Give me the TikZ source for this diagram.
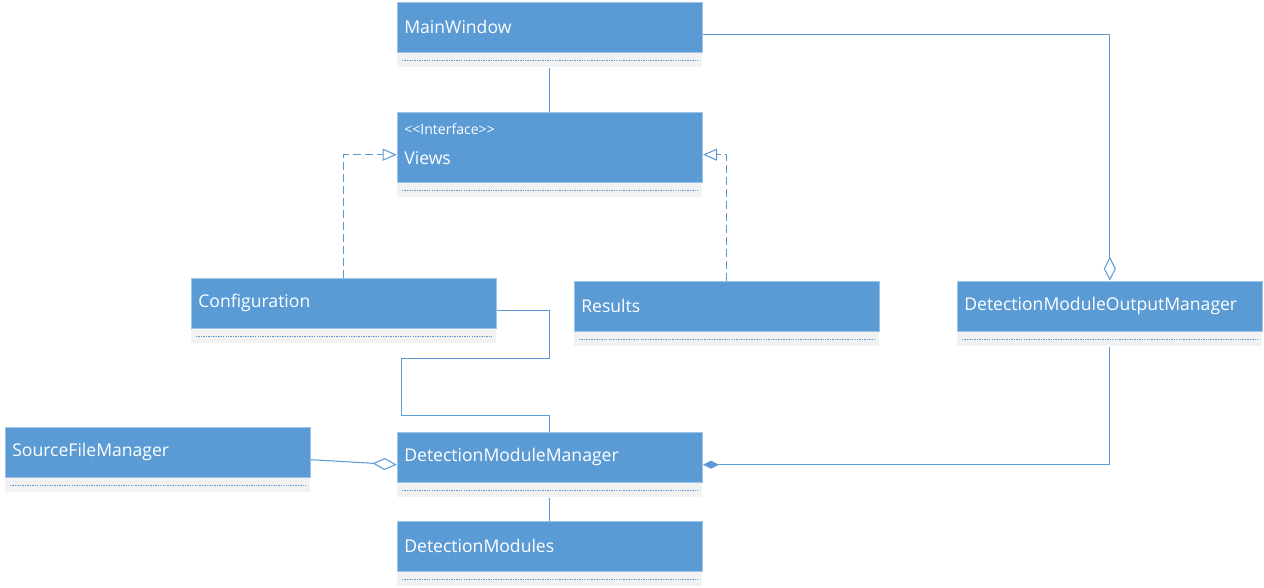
\documentclass[tikz,border=0pt]{standalone}
\usepackage{fontspec}
\setmainfont{Open Sans}
\usetikzlibrary{positioning, arrows.meta, fit}
\definecolor{umlblue}{HTML}{5B9BD5}
\definecolor{umledge}{HTML}{9DC3E6}
\definecolor{umlgray}{HTML}{F2F2F2}

\begin{document}
\begin{tikzpicture}[
    head/.style={draw=umledge, fill=umlblue, text=white, anchor=north west, inner xsep=0.14cm, inner ysep=0pt,
        text width=5.82cm, minimum height=1cm, align=left, font=\fontsize{10}{12}\selectfont},
    compart/.style={fill=umlgray, minimum width=6.1cm, minimum height=0.28cm, inner sep=0pt},
    sep/.style={umlblue, line width=0.5pt, dash pattern=on 0.8pt off 0.6pt},
    assoc/.style={umlblue, line width=0.6pt},
    real/.style={assoc, dash pattern=on 0.16cm off 0.08cm, -{Triangle[open, length=0.28cm, width=0.24cm]}},
    aggr/.style={assoc, -{Diamond[open, length=0.48cm, width=0.24cm]}},
    comp/.style={assoc, -{Diamond[length=0.32cm, width=0.16cm]}}
]
    \useasboundingbox (0,0) rectangle (25.28,-11.76);
    % Classes
    \node (mw-h) [head] at (7.94,-0.04) {MainWindow};
    \node (views-h) [head, minimum height=1.4cm] at (7.94,-2.24)
        {{\fontsize{8}{9}\selectfont <\kern0pt<Interface>\kern0pt>}\\[5pt] Views\par\vspace{0.12cm}};
    \node (conf-h) [head] at (3.82,-5.56) {Configuration};
    \node (res-h) [head] at (11.48,-5.62) {Results};
    \node (dmom-h) [head] at (19.14,-5.62) {DetectionModuleOutputManager};
    \node (sfm-h) [head] at (0.10,-8.54) {SourceFileManager};
    \node (dmm-h) [head] at (7.94,-8.64) {DetectionModuleManager};
    \node (dmod-h) [head] at (7.94,-10.42) {DetectionModules};
    % Empty compartments
    \foreach \n in {mw, views, conf, res, dmom, sfm, dmm, dmod} {
        \node (\n-c) [compart, below=0pt of \n-h] {};
        \draw [sep] ([xshift=0.1cm]\n-c.west) -- ([xshift=-0.1cm]\n-c.east);
        \node (\n) [inner sep=0pt, fit=(\n-h)(\n-c)] {};
    }
    % Relations
    \draw [assoc] (mw.south) -- (views.north);
    \draw [real] (conf.north) |- (views.west);
    \draw [real] (res.north) |- (views.east);
    \draw [aggr] (mw.east) -| (dmom.north);
    \draw [assoc] (conf.east) -| ([yshift=1.46cm]dmm.north) -| ([xshift=-2.96cm, yshift=0.32cm]dmm.north) -| (dmm.north);
    \draw [aggr] (sfm.east) -- (dmm.west);
    \draw [comp] (dmom.south) |- (dmm.east);
    \draw [assoc] (dmm.south) -- (dmod.north);
\end{tikzpicture}
\end{document}
